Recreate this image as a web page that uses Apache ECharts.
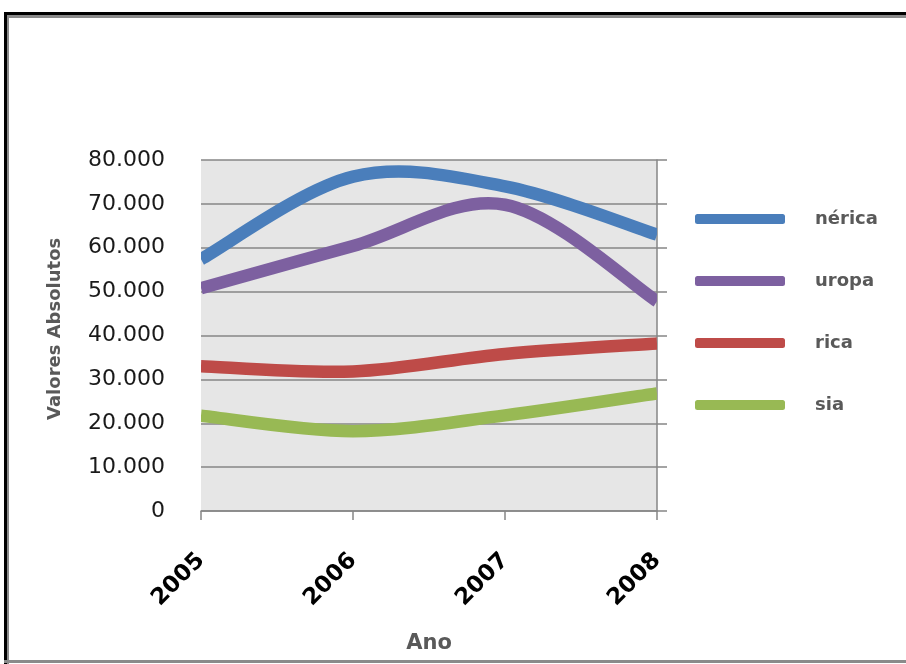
<!DOCTYPE html>
<html>
<head>
<meta charset="utf-8">
<script src="https://cdn.jsdelivr.net/npm/echarts@6/dist/echarts.min.js"></script>
<style>html,body{margin:0;padding:0;background:#fff;}#c{width:906px;height:664px;}</style>
</head>
<body>
<div id="c"></div>
<script>
const years = ['2005', '2006', '2007', '2008'];
const america = [57400, 76200, 74000, 63000];
const europa = [50800, 60400, 69800, 47800];
const africa = [33000, 31800, 35800, 38200];
const asia = [21700, 18200, 21800, 26800];
const seriesNames = ['América', 'Europa', 'África', 'Ásia'];
const legendLabels = ['nérica', 'uropa', 'rica', 'sia'];
const colors = ['#4a7ebb', '#7d60a0', '#be4b48', '#98b954'];

const dataSets = [america, europa, africa, asia];

function makeRender(arr, color) {
  return function (params, api) {
    if (params.dataIndex !== 0) return;
    const p = arr.map((v, i) => api.coord([i, v]));
    const n = p.length;
    let d = 'M' + p[0][0] + ' ' + p[0][1];
    for (let i = 0; i < n - 1; i++) {
      const p0 = p[Math.max(i - 1, 0)], p1 = p[i], p2 = p[i + 1], p3 = p[Math.min(i + 2, n - 1)];
      const c1 = [p1[0] + (p2[0] - p0[0]) / 6, p1[1] + (p2[1] - p0[1]) / 6];
      const c2 = [p2[0] - (p3[0] - p1[0]) / 6, p2[1] - (p3[1] - p1[1]) / 6];
      d += ' C' + c1[0] + ' ' + c1[1] + ' ' + c2[0] + ' ' + c2[1] + ' ' + p2[0] + ' ' + p2[1];
    }
    return {type: 'path', shape: {pathData: d}, style: {fill: null, stroke: color, lineWidth: 12.5, lineCap: 'butt', lineJoin: 'round'}};
  };
}

const chart = echarts.init(document.getElementById('c'));
chart.setOption({
  animation: false,
  backgroundColor: '#ffffff',
  grid: {left: 201, right: 249, top: 160, bottom: 153, show: true, backgroundColor: '#e6e6e6', borderWidth: 0},
  legend: {
    orient: 'vertical', left: 695, top: 209, padding: 0, itemWidth: 90, itemHeight: 10, itemGap: 42,
    icon: 'roundRect',
    data: seriesNames,
    formatter: n => legendLabels[seriesNames.indexOf(n)],
    textStyle: {fontFamily: 'DejaVu Sans', fontWeight: 'bold', fontSize: 18, color: '#595959', lineHeight: 20, padding: [0, 0, 0, 25]}
  },
  xAxis: {
    type: 'category', data: years, boundaryGap: false,
    axisLine: {lineStyle: {color: '#868686', width: 1.5}},
    axisTick: {show: true, length: 9, lineStyle: {color: '#868686', width: 1.5}},
    axisLabel: {rotate: 45, margin: 46, fontFamily: 'DejaVu Sans', fontWeight: 'bold', fontSize: 23, color: '#000'},
    splitLine: {show: false},
    name: 'Ano', nameLocation: 'middle', nameGap: 122,
    nameTextStyle: {fontFamily: 'DejaVu Sans', fontWeight: 'bold', fontSize: 21, color: '#595959'}
  },
  yAxis: [{
    type: 'value', min: 0, max: 80000, interval: 10000, position: 'left',
    axisLine: {show: false}, axisTick: {show: false},
    axisLabel: {margin: 36, fontFamily: 'DejaVu Sans', fontSize: 22, color: '#1a1a1a',
      formatter: v => v === 0 ? '0' : (v / 1000) + '.000'},
    splitLine: {lineStyle: {color: '#868686', width: 1.5}}
  }, {
    type: 'value', min: 0, max: 80000, interval: 10000, position: 'right',
    axisLine: {show: true, lineStyle: {color: '#868686', width: 1.5}},
    axisTick: {show: true, inside: false, length: 10, lineStyle: {color: '#868686', width: 1.5}},
    axisLabel: {show: false}, splitLine: {show: false}
  }],
  series: seriesNames.map((n, i) => ({
    name: n, type: 'custom', clip: true,
    data: dataSets[i].map((v, j) => [j, v]),
    encode: {x: 0, y: 1},
    renderItem: makeRender(dataSets[i], colors[i]),
    itemStyle: {color: colors[i]}, z: 10 - i
  })),
  graphic: [
    {type: 'text', x: 46, y: 420, rotation: Math.PI / 2, style: {text: 'Valores Absolutos', fontFamily: 'DejaVu Sans', fontWeight: 'bold', fontSize: 18, fill: '#595959'}},
    {type: 'rect', shape: {x: 4, y: 12, width: 910, height: 3}, style: {fill: '#000'}},
    {type: 'rect', shape: {x: 4, y: 12, width: 3, height: 660}, style: {fill: '#000'}},
    {type: 'rect', shape: {x: 7, y: 15, width: 910, height: 3}, style: {fill: '#8a8a8a'}},
    {type: 'rect', shape: {x: 7, y: 15, width: 2, height: 660}, style: {fill: '#8a8a8a'}},
    {type: 'rect', shape: {x: 4, y: 660, width: 910, height: 3}, style: {fill: '#8a8a8a'}}
  ]
});
</script>
</body>
</html>
